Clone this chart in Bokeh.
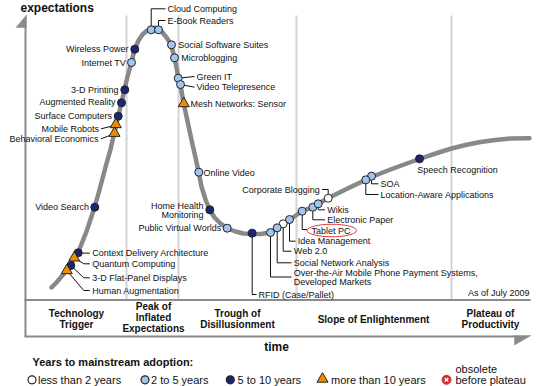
from bokeh.plotting import figure
from bokeh.models import Range1d
from bokeh.core.properties import value
from bokeh.embed import file_html
from bokeh.resources import INLINE

# ---------------- data (time -> x, expectations measured from top of picture -> y) -------------
curve_time = [51, 56, 61, 66, 70, 74, 78, 82, 86, 90, 94, 98, 102, 106, 110, 112, 114, 116, 118,
              121, 124, 127, 131, 134, 138, 142, 146, 150, 154, 158, 162, 166, 170, 173, 176, 178,
              180, 183, 186, 189, 192, 195, 198, 201, 205, 209, 214, 220, 227, 235, 243, 252, 260,
              270, 277, 283, 289, 301, 312, 318, 328, 345, 365, 371, 390, 405, 419, 435, 451, 465,
              480, 495, 510, 529]
curve_expect = [287, 282, 276, 270, 264, 257, 251, 241, 231, 219, 207, 193, 178, 163, 149, 140, 132,
                123, 115, 102, 89, 76, 62, 49, 40, 34, 30.5, 28.5, 27, 28.5, 32, 37, 43, 53, 67, 78,
                85, 102, 116, 130, 144, 157, 171, 186, 199, 209, 217, 223, 228, 231, 233, 233.5,
                233.5, 232, 228, 223.5, 219.5, 211, 206.5, 203, 197.5, 189, 179.5, 176.5, 169, 163.5,
                158.5, 153, 148, 144.5, 141.5, 139.5, 138, 137.7]

tech_names = ["Cloud Computing", "E-Book Readers", "Social Software Suites", "Microblogging",
              "Green IT", "Video Telepresence", "Mesh Networks: Sensor", "Wireless Power",
              "Internet TV", "3-D Printing", "Augmented Reality", "Surface Computers",
              "Mobile Robots", "Behavioral Economics", "Video Search",
              "Context Delivery Architecture", "Quantum Computing", "3-D Flat-Panel Displays",
              "Human Augmentation", "Online Video", "Home Health Monitoring",
              "Public Virtual Worlds", "RFID (Case/Pallet)",
              "Over-the-Air Mobile Phone Payment Systems, Developed Markets",
              "Social Network Analysis", "Web 2.0", "Idea Management", "Tablet PC",
              "Electronic Paper", "Wikis", "Corporate Blogging", "SOA",
              "Location-Aware Applications", "Speech Recognition"]
tech_time = [150.7, 158, 171, 174, 177.7, 180, 183.3, 134.3, 131, 124.3, 121, 117.7, 115.3, 114,
             94.3, 77.7, 73.7, 70.3, 66.3, 198.3, 209.3, 226.7, 251.7, 270, 276.7, 282.7, 289,
             301.7, 312.3, 317.7, 327.7, 371, 365.3, 419]
tech_expect = [29.3, 29.3, 44.3, 57.3, 77.7, 84, 103, 48.7, 62, 89.3, 102.3, 115.7, 124, 132.7,
               206.7, 252.3, 257.3, 265, 270, 171.7, 209.3, 227.7, 232.7, 232, 227.3, 223.3, 219,
               210.7, 206.7, 203.3, 197.7, 175.7, 179.3, 158.3]
tech_years = ["2-5", "2-5", "2-5", "2-5", "2-5", "2-5", ">10", "5-10", "2-5", "5-10", "5-10",
              "5-10", ">10", ">10", "5-10", "5-10", ">10", "5-10", ">10", "2-5", "5-10", "2-5",
              "5-10", "2-5", "2-5", "<2", "2-5", "2-5", "2-5", "2-5", "<2", "2-5", "2-5", "5-10"]

phase_names = [["Technology", "Trigger"], ["Peak of", "Inflated", "Expectations"],
               ["Trough of", "Disillusionment"], ["Slope of Enlightenment"],
               ["Plateau of", "Productivity"]]
phase_bounds = [126, 178, 296, 451]

legend_keys = ["<2", "2-5", "5-10", ">10"]
legend_labels = ["less than 2 years", "2 to 5 years", "5 to 10 years", "more than 10 years"]

# ---------------- layout / styles ----------------
colors = {"<2": "#ffffff", "2-5": "#9fc5f0", "5-10": "#1b2673", ">10": "#f08c00"}
FONT = value("Liberation Sans")
GRAY = "#8a8a8a"

# label layout: name -> (label lines, x, first y, align, connector path)
lab = {
    "Cloud Computing": (["Cloud Computing"], 167, 8.3, "left", [(150.7, 26), (150.7, 8.3), (165, 8.3)]),
    "E-Book Readers": (["E-Book Readers"], 167, 20, "left", [(158, 26), (158, 20), (165, 20)]),
    "Social Software Suites": (["Social Software Suites"], 177.7, 44.3, "left", None),
    "Microblogging": (["Microblogging"], 180.7, 57.3, "left", None),
    "Green IT": (["Green IT"], 196, 76, "left", [(177.7, 77.7), (194, 76)]),
    "Video Telepresence": (["Video Telepresence"], 196, 86.7, "left", [(180, 84), (194, 86.7)]),
    "Mesh Networks: Sensor": (["Mesh Networks: Sensor"], 190, 103, "left", None),
    "Wireless Power": (["Wireless Power"], 128, 48.7, "right", None),
    "Internet TV": (["Internet TV"], 125.5, 62, "right", None),
    "3-D Printing": (["3-D Printing"], 118, 89.3, "right", None),
    "Augmented Reality": (["Augmented Reality"], 115, 101.7, "right", None),
    "Surface Computers": (["Surface Computers"], 111.5, 115.7, "right", None),
    "Mobile Robots": (["Mobile Robots"], 98.5, 128.3, "right", [(100.5, 128.3), (112, 125.5)]),
    "Behavioral Economics": (["Behavioral Economics"], 98, 138.3, "right", [(100.5, 138.3), (110.5, 134.5)]),
    "Video Search": (["Video Search"], 88.5, 206.7, "right", None),
    "Context Delivery Architecture": (["Context Delivery Architecture"], 91.7, 252.7, "left", [(77.7, 252.5), (89.3, 252.7)]),
    "Quantum Computing": (["Quantum Computing"], 91.7, 263.3, "left", [(73.7, 257.3), (83.3, 263.3), (89.3, 263.3)]),
    "3-D Flat-Panel Displays": (["3-D Flat-Panel Displays"], 91.7, 277.3, "left", [(70.3, 265), (83.3, 277.3), (89.3, 277.3)]),
    "Human Augmentation": (["Human Augmentation"], 91.7, 290, "left", [(66.3, 270), (83.3, 290), (89.3, 290)]),
    "Online Video": (["Online Video"], 203, 172.3, "left", None),
    "Home Health Monitoring": (["Home Health", "Monitoring"], 203, 205, "right", None),
    "Public Virtual Worlds": (["Public Virtual Worlds"], 220.7, 227.7, "right", None),
    "RFID (Case/Pallet)": (["RFID (Case/Pallet)"], 258, 294, "left", [(251.7, 232.7), (251.7, 294), (256, 294)]),
    "Over-the-Air Mobile Phone Payment Systems, Developed Markets":
        (["Over-the-Air Mobile Phone Payment Systems,", "Developed Markets"], 293.3, 272, "left",
         [(270, 232), (270, 276.5), (291, 276.5)]),
    "Social Network Analysis": (["Social Network Analysis"], 293.3, 262.3, "left", [(276.7, 227.3), (276.7, 262.3), (291, 262.3)]),
    "Web 2.0": (["Web 2.0"], 293.3, 250.7, "left", [(282.7, 223.3), (282.7, 250.7), (291, 250.7)]),
    "Idea Management": (["Idea Management"], 297.3, 240.7, "left", [(289, 219), (289, 240.7), (295, 240.7)]),
    "Tablet PC": (["Tablet PC"], 311, 230, "left", [(301.7, 210.7), (301.7, 229), (306.5, 229)]),
    "Electronic Paper": (["Electronic Paper"], 326.7, 219.3, "left", [(312.3, 206.7), (312.3, 219.3), (324.5, 219.3)]),
    "Wikis": (["Wikis"], 326.7, 209.3, "left", [(317.7, 203.3), (317.7, 209.3), (324.5, 209.3)]),
    "Corporate Blogging": (["Corporate Blogging"], 319.3, 189, "right", [(321.5, 189), (327.7, 189), (327.7, 197.7)]),
    "SOA": (["SOA"], 380, 183.3, "left", [(371, 175.7), (371, 183.3), (378, 183.3)]),
    "Location-Aware Applications": (["Location-Aware Applications"], 380, 194, "left", [(365.3, 179.3), (365.3, 194), (378, 194)]),
    "Speech Recognition": (["Speech Recognition"], 416.7, 169, "left", None),
}

p = figure(width=540, height=386, x_range=Range1d(0, 540), y_range=Range1d(386, 0),
           output_backend="svg", toolbar_location=None, x_axis_type=None, y_axis_type=None,
           min_border=0)
p.outline_line_color = None
p.background_fill_color = "white"
p.border_fill_color = "white"


def txt(xs, ys, texts, size="9px", align="left", bold=False, color="#111111"):
    p.text(x=xs, y=ys, text=texts, text_font=FONT, text_font_size=size, text_align=align,
           text_baseline="middle", text_color=color,
           text_font_style="bold" if bold else "normal")


# phase separator lines
p.segment(x0=phase_bounds, y0=[15] * 4, x1=phase_bounds, y1=[299] * 4,
          line_color="#d4d4d4", line_width=2)

# axes / phase box
p.line([24, 530], [299.5, 299.5], line_color=GRAY, line_width=2)
p.line([25, 25], [26, 336], line_color=GRAY, line_width=2)
p.line([24, 515], [336, 336], line_color=GRAY, line_width=2)
p.patch([15.5, 26, 26], [27, 27, 14.5], fill_color=GRAY, line_color=GRAY, line_width=0.5)
p.patch([514, 530.5, 514], [335, 335, 344.5], fill_color=GRAY, line_color=GRAY, line_width=0.5)

# hype curve
p.line(curve_time, curve_expect, line_color="#888888", line_width=4.5, line_join="round",
       line_cap="round")

# connectors
xs_c, ys_c = [], []
for n in tech_names:
    path = lab[n][4]
    if path:
        xs_c.append([pt[0] for pt in path])
        ys_c.append([pt[1] for pt in path])
p.multi_line(xs_c, ys_c, line_color="#111111", line_width=1)

# markers
for key in legend_keys:
    xs = [x for x, k in zip(tech_time, tech_years) if k == key]
    ys = [y for y, k in zip(tech_expect, tech_years) if k == key]
    if key == ">10":
        p.scatter(xs, ys, marker="triangle", size=11, fill_color=colors[key],
                  line_color="#222222", line_width=1)
    else:
        p.scatter(xs, ys, marker="circle", size=8, fill_color=colors[key],
                  line_color="#222222", line_width=1)

# labels
groups = {"left": ([], [], []), "right": ([], [], [])}
for n in tech_names:
    lines, lx, ly, al, _ = lab[n]
    for i, t in enumerate(lines):
        groups[al][0].append(lx)
        groups[al][1].append(ly + i * 9.5)
        groups[al][2].append(t)
for al, (gx, gy, gt) in groups.items():
    txt(gx, gy, gt, align=al)

# Tablet PC highlight
p.ellipse(x=[331.3], y=[230], width=49.5, height=12.5, fill_color=None,
          line_color="#e8393a", line_width=1)

# titles
txt([20], [7.5], ["expectations"], size="12px", bold=True)
txt([276], [346.7], ["time"], size="12px", align="center", bold=True)
txt([529], [292.5], ["As of July 2009"], align="right")

# phase labels
phase_cx = [76, 153, 237, 373, 490]
phase_top = [313, 306, 313, 318.5, 313]
px_, py_, pt_ = [], [], []
for cx, top, lines in zip(phase_cx, phase_top, phase_names):
    for i, t in enumerate(lines):
        px_.append(cx)
        py_.append(top + i * 10.8)
        pt_.append(t)
txt(px_, py_, pt_, size="10px", align="center", bold=True)

# legend
txt([32], [361], ["Years to mainstream adoption:"], size="11px", bold=True)
leg_mx = [31.5, 144.5, 229.8, 322]
leg_tx = [37.5, 150.5, 237, 330.5]
for key, mx in zip(legend_keys, leg_mx):
    if key == ">10":
        p.scatter([mx], [378.5], marker="triangle", size=11, fill_color=colors[key],
                  line_color="#222222", line_width=1)
    else:
        p.scatter([mx], [379.3], marker="circle", size=8, fill_color=colors[key],
                  line_color="#222222", line_width=1.2)
txt(leg_tx, [379.3] * 4, legend_labels, size="11px")
p.scatter([446], [379.3], marker="circle", size=9, fill_color="#e02828", line_color="#e02828")
p.scatter([446], [379.3], marker="x", size=5, line_color="white", line_width=1.5)
txt([455], [368.3], ["obsolete"], size="11px")
txt([455], [379.3], ["before plateau"], size="11px")

open("out.html", "w").write(file_html(p, INLINE))
